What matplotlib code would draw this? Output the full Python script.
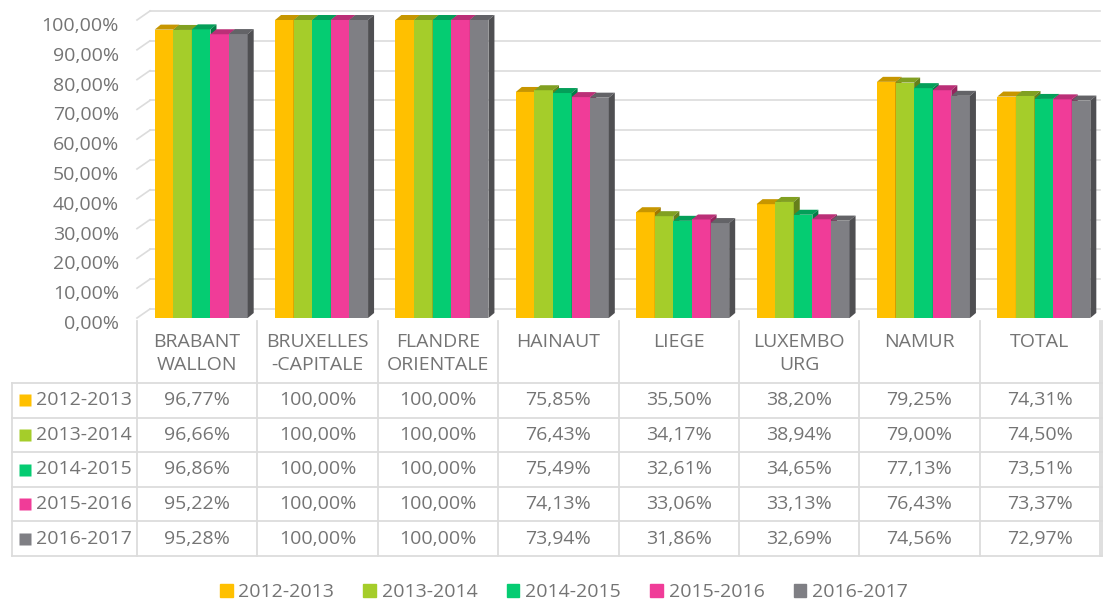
import numpy as np
import matplotlib.pyplot as plt
from matplotlib.patches import Polygon, Patch
from matplotlib.colors import to_rgb
from matplotlib.transforms import ScaledTranslation

plt.rcParams['font.family'] = ['Open Sans', 'DejaVu Sans']

categories = ['BRABANT\nWALLON', 'BRUXELLES\n-CAPITALE', 'FLANDRE\nORIENTALE', 'HAINAUT',
              'LIEGE', 'LUXEMBO\nURG', 'NAMUR', 'TOTAL']
years = ['2012-2013', '2013-2014', '2014-2015', '2015-2016', '2016-2017']
v2012 = [96.77, 100.00, 100.00, 75.85, 35.50, 38.20, 79.25, 74.31]
v2013 = [96.66, 100.00, 100.00, 76.43, 34.17, 38.94, 79.00, 74.50]
v2014 = [96.86, 100.00, 100.00, 75.49, 32.61, 34.65, 77.13, 73.51]
v2015 = [95.22, 100.00, 100.00, 74.13, 33.06, 33.13, 76.43, 73.37]
v2016 = [95.28, 100.00, 100.00, 73.94, 31.86, 32.69, 74.56, 72.97]
series = [v2012, v2013, v2014, v2015, v2016]
colors = ['#FFC000', '#A5CD2A', '#05CC72', '#F03C98', '#7F7F84']

TXT = '#747474'
GRID = '#dcdcdc'
FS = 14
W, H = 1107, 602

def fmt(v):
    return f"{v:.2f}%".replace('.', ',')

def shade(c, f):
    r, g, b = to_rgb(c)
    return (r * f, g * f, b * f)

fig = plt.figure(figsize=(W / 100, H / 100), dpi=100)

# main plot area (front plane)
left, right, bottom, top = 137, 1100, 318, 20
ax = fig.add_axes([left / W, 1 - bottom / H, (right - left) / W, (bottom - top) / H])
ax.set_xlim(-0.5, 7.5)
ax.set_ylim(0, 100)
for s in ax.spines.values():
    s.set_visible(False)
ax.set_xticks([])
ax.set_yticks(np.arange(0, 101, 10))
ax.set_yticklabels([fmt(v) for v in np.arange(0, 101, 10)], color=TXT, fontsize=FS)
ax.tick_params(axis='y', length=0, pad=13)
off = ScaledTranslation(0, -4 / 100, fig.dpi_scale_trans)
for lab in ax.get_yticklabels():
    lab.set_transform(lab.get_transform() + off)

px_x = (right - left) / 8.0
px_y = (bottom - top) / 100.0

# back wall gridlines + side wall
wdx, wdy = 13 / px_x, 9 / px_y
for v in range(0, 101, 10):
    ax.plot([-0.5 + wdx, 7.5], [v + wdy, v + wdy], color=GRID, lw=1.2, zorder=1, clip_on=False)
    ax.plot([-0.5, -0.5 + wdx], [v, v + wdy], color=GRID, lw=1.2, zorder=1, clip_on=False)

# pseudo-3D bars
bw = 18.6 / px_x
dx, dy = 6 / px_x, 5 / px_y
shift = 4 / px_x
x = np.arange(len(categories))
for j, vals in enumerate(series):
    xs = x + (j - 2.5) * bw + shift
    ax.bar(xs, vals, width=bw, align='edge', color=colors[j], zorder=2 + 2 * j, clip_on=False)
    for x0, v in zip(xs, vals):
        x1 = x0 + bw
        ax.add_patch(Polygon([(x0, v), (x1, v), (x1 + dx, v + dy), (x0 + dx, v + dy)],
                             closed=True, fc=shade(colors[j], 0.78), ec='none',
                             zorder=3 + 2 * j, clip_on=False))
        ax.add_patch(Polygon([(x1, 0), (x1 + dx, dy), (x1 + dx, v + dy), (x1, v)],
                             closed=True, fc=shade(colors[j], 0.62), ec='none',
                             zorder=3 + 2 * j, clip_on=False))

# data table
tax = fig.add_axes([0, 0, 1, 1])
tax.set_xlim(-left / px_x - 0.5, (W - left) / px_x - 0.5)
tax.set_ylim(H, 0)
tax.axis('off')

tab_left = -0.5 - (left - 12) / px_x
tab_right = 7.5 + 2 / px_x
head_top, head_bot, row_h = 318, 383, 34.6
n_rows = len(years)
tab_bot = head_bot + n_rows * row_h

for k in range(n_rows + 1):
    yy = head_bot + k * row_h
    tax.plot([tab_left, tab_right], [yy, yy], color=GRID, lw=1.3)
tax.plot([tab_left, tab_left], [head_bot, tab_bot], color=GRID, lw=1.3)
for b in np.arange(-0.5, 8.0, 1.0):
    tax.plot([b, b], [head_top + 3, tab_bot], color=GRID, lw=1.3)
tax.plot([tab_right, tab_right], [head_top + 3, tab_bot], color=GRID, lw=1.3)

for i, cat in enumerate(categories):
    tax.text(i, 333, cat, ha='center', va='top', color=TXT, fontsize=FS, linespacing=1.35)

key_x = tab_left + 13 / px_x
lab_x = tab_left + 24 / px_x
for k, (yr, vals) in enumerate(zip(years, series)):
    yc = head_bot + (k + 0.5) * row_h
    tax.plot([key_x], [yc], marker='s', ms=8, color=colors[k], mec='none')
    tax.text(lab_x, yc, yr, ha='left', va='center', color=TXT, fontsize=FS)
    for i, v in enumerate(vals):
        tax.text(i, yc, fmt(v), ha='center', va='center', color=TXT, fontsize=FS)

handles = [Patch(color=c, label=y) for c, y in zip(colors, years)]
fig.legend(handles=handles, loc='center', bbox_to_anchor=(564 / W, 1 - 592 / H), ncol=5,
           frameon=False, handlelength=0.65, handleheight=0.65, handletextpad=0.3,
           columnspacing=1.5, fontsize=FS, labelcolor=TXT)

fig.savefig('out.png', dpi=100)
